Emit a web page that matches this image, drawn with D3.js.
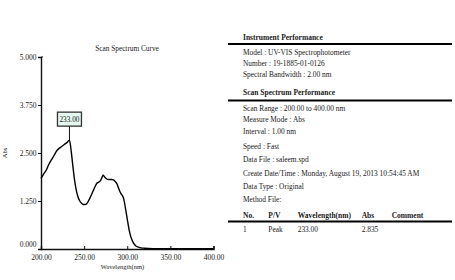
<!DOCTYPE html>
<html>
<head>
<meta charset="utf-8">
<script src="https://cdn.jsdelivr.net/npm/d3@7"></script>
<style>
  body { margin: 0; background: #fff; }
  svg { display: block; }
  text { font-family: "Liberation Serif", "Times New Roman", serif; fill: #1a1a1a; }
</style>
</head>
<body>
<div id="chart"></div>
<script>
// spectrum (nm, Abs)
const wavelengths = [200, 203, 206, 209, 212, 215, 218, 221, 224, 227, 230, 233, 235, 237, 239, 241, 243, 245, 247, 249, 251, 253, 255, 257, 259, 261, 263, 265, 267, 269, 271, 272, 274, 276, 278, 280, 282, 284, 286, 288, 290, 292, 294, 296, 298, 300, 302, 304, 306, 308, 310, 313, 316, 320, 330, 350, 400];
const absValues = [1.84, 1.95, 2.05, 2.2, 2.32, 2.43, 2.55, 2.62, 2.67, 2.72, 2.77, 2.835, 2.55, 2.15, 1.78, 1.52, 1.35, 1.25, 1.19, 1.16, 1.16, 1.18, 1.25, 1.34, 1.44, 1.54, 1.64, 1.72, 1.74, 1.78, 1.88, 1.92, 1.87, 1.83, 1.81, 1.81, 1.81, 1.8, 1.76, 1.7, 1.58, 1.47, 1.4, 1.3, 1.05, 0.78, 0.52, 0.33, 0.21, 0.13, 0.08, 0.05, 0.03, 0.02, 0.01, 0.006, 0.006];
const xTicks = [200, 250, 300, 350, 400];
const yTicks = [0, 1.25, 2.5, 3.75, 5];
const peakWl = 233;
const peakAbs = 2.835;

const instrumentRows = ["Model : UV-VIS Spectrophotometer", "Number : 19-1885-01-0126", "Spectral Bandwidth : 2.00 nm"];
const scanRows = ["Scan Range : 200.00 to 400.00 nm", "Measure Mode : Abs", "Interval : 1.00 nm", "Speed : Fast", "Data File : saleem.spd", "Create Date/Time : Monday, August 19, 2013 10:54:45 AM", "Data Type : Original", "Method File:"];
const peakHeader = ["No.", "P/V", "Wavelength(nm)", "Abs", "Comment"];
const peakRow = ["1", "Peak", "233.00", "2.835"];

const W = 455, H = 280;
const svg = d3.select("#chart").append("svg").attr("width", W).attr("height", H);

// ---- spectrum chart
const x = d3.scaleLinear().domain([200, 400]).range([41, 213.5]);
const y = d3.scaleLinear().domain([0, 5]).range([249, 57]);

svg.append("text").attr("x", 127).attr("y", 48).attr("dy", "0.35em")
  .attr("text-anchor", "middle").style("font-size", "7.3px").text("Scan Spectrum Curve");

const yAxis = svg.append("g").attr("transform", "translate(41,0)")
  .call(d3.axisLeft(y).tickValues(yTicks).tickFormat(d3.format(".3f")).tickSize(3).tickPadding(1.5));
const xAxis = svg.append("g").attr("transform", "translate(0,249)")
  .call(d3.axisBottom(x).tickValues(xTicks).tickFormat(d3.format(".2f")).tickSize(-3).tickPadding(6));

[xAxis, yAxis].forEach(g => {
  g.select(".domain").attr("stroke", "#111").attr("stroke-width", 1.4);
  g.selectAll(".tick line").attr("stroke", "#111").attr("stroke-width", 1);
  g.selectAll(".tick text").style("font-size", "7.5px").style("font-family", "'Liberation Serif', serif").attr("fill", "#1a1a1a");
});
yAxis.selectAll(".tick text").attr("dy", d => d === 0 ? "-0.3em" : "0.32em");
// little cap at top of y axis
yAxis.append("line").attr("x1", 0).attr("x2", 2).attr("y1", y(5)).attr("y2", y(5)).attr("stroke", "#111");

svg.append("text").attr("x", 122.5).attr("y", 267).attr("dy", "0.35em")
  .attr("text-anchor", "middle").style("font-size", "6.5px").text("Wavelength(nm)");
svg.append("text").attr("transform", "translate(5,153) rotate(-90)").attr("dy", "0.35em")
  .attr("text-anchor", "middle").style("font-size", "6.6px").text("Abs");

const spectrum = wavelengths.map((w, i) => [w, absValues[i]]);
svg.append("path").datum(spectrum)
  .attr("fill", "none").attr("stroke", "#000").attr("stroke-width", 1.4).attr("stroke-linejoin", "round")
  .attr("d", d3.line().x(d => x(d[0])).y(d => y(d[1])).curve(d3.curveMonotoneX));

// peak label
const px = x(peakWl), py = y(peakAbs);
svg.append("line").attr("x1", px).attr("x2", px).attr("y1", py).attr("y2", py - 14)
  .attr("stroke", "#111").attr("stroke-width", 1);
svg.append("rect").attr("x", px - 12).attr("y", py - 28).attr("width", 24).attr("height", 14)
  .attr("fill", "#e6f7f0").attr("stroke", "#333").attr("stroke-width", 1.3);
svg.append("text").attr("x", px).attr("y", py - 21).attr("dy", "0.35em").attr("text-anchor", "middle")
  .style("font-size", "7.3px").attr("fill", "#1d4f4f").text(peakWl.toFixed(2));

// ---- info table
const tx = 243;
const rule = yy => svg.append("line").attr("x1", 228).attr("x2", 452).attr("y1", yy).attr("y2", yy)
  .attr("stroke", "#000").attr("stroke-width", 1.8);
const bold = (txt, xx, yy) => svg.append("text").attr("x", xx).attr("y", yy).attr("dy", "0.35em")
  .style("font-size", "7.5px").style("font-weight", "bold").text(txt);
const plain = (txt, xx, yy) => svg.append("text").attr("x", xx).attr("y", yy).attr("dy", "0.35em")
  .style("font-size", "7.4px").text(txt);

bold("Instrument Performance", tx, 37);
rule(44);
const instY = [52.5, 63.3, 74];
instrumentRows.forEach((t, i) => plain(t, tx, instY[i]));

bold("Scan Spectrum Performance", tx, 92.3);
rule(100.5);
const scanY = [108, 119.5, 131, 146, 159.5, 173, 186, 199.3];
scanRows.forEach((t, i) => plain(t, tx, scanY[i]));

const colX = [243, 268.3, 297.7, 361.7, 391.7];
peakHeader.forEach((t, i) => bold(t, colX[i], 215));
rule(221.5);
peakRow.forEach((t, i) => plain(t, colX[i], 229.3));
</script>
</body>
</html>
